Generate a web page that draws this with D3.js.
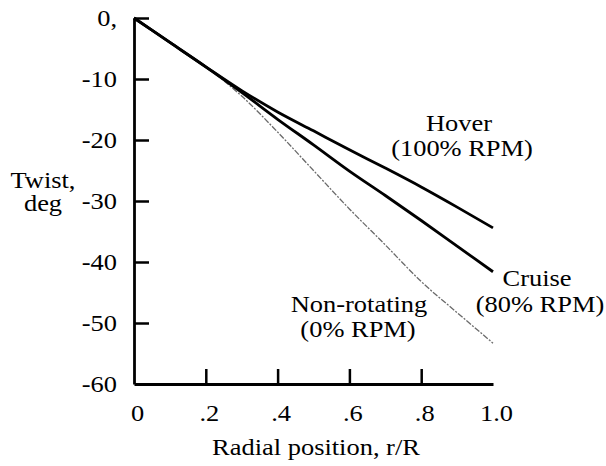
<!DOCTYPE html>
<html>
<head>
<meta charset="utf-8">
<script src="https://cdn.jsdelivr.net/npm/d3@7"></script>
<style>
  html, body { margin: 0; padding: 0; background: #fff; }
  svg { display: block; font-family: "Liberation Serif", "Times New Roman", serif; }
</style>
</head>
<body>
<div id="chart"></div>
<script>
// radial stations and twist (deg)
const radialPos = [0, 0.1, 0.2, 0.3, 0.4, 0.5, 0.6, 0.7, 0.8, 0.9, 1.0];
const hoverTwist = [0, -4, -8, -11.9, -15.4, -18.5, -21.6, -24.6, -27.7, -31.0, -34.4];
const cruiseTwist = [0, -4, -8, -12.2, -16.6, -20.8, -25.1, -29.1, -33.2, -37.4, -41.6];
const nonRotTwist = [0, -4, -8, -12.8, -18.7, -25.0, -31.3, -37.2, -43.2, -48.3, -53.3];

const xTicks = [0, 0.2, 0.4, 0.6, 0.8, 1.0];
const xTickLabels = ["0", ".2", ".4", ".6", ".8", "1.0"];
const yTicks = [0, -10, -20, -30, -40, -50, -60];
const yTickLabels = ["0,", "-10", "-20", "-30", "-40", "-50", "-60"];

const W = 606, H = 466;
const mLeft = 134, mTop = 18, plotW = 359, plotH = 366;
const fontSize = 23, sx = 1.15;

const svg = d3.select("#chart").append("svg")
  .attr("width", W)
  .attr("height", H);

const x = d3.scaleLinear().domain([0, 1]).range([mLeft, mLeft + plotW]);
const y = d3.scaleLinear().domain([-60, 0]).range([mTop + plotH, mTop]);

// axes: ticks point inward
const xAxis = d3.axisBottom(x)
  .tickValues(xTicks)
  .tickFormat((d, i) => xTickLabels[i])
  .tickSizeInner(-15)
  .tickSizeOuter(0)
  .tickPadding(21);

const yAxis = d3.axisLeft(y)
  .tickValues(yTicks)
  .tickFormat((d, i) => yTickLabels[i])
  .tickSizeInner(-15)
  .tickSizeOuter(0)
  .tickPadding(17);

const gx = svg.append("g")
  .attr("transform", `translate(0,${mTop + plotH})`)
  .call(xAxis);

const gy = svg.append("g")
  .attr("transform", `translate(${mLeft},0)`)
  .call(yAxis);

[gx, gy].forEach(g => {
  g.select(".domain").attr("stroke", "#000").attr("stroke-width", 2.8);
  g.selectAll(".tick line").attr("stroke", "#000").attr("stroke-width", 2.5);
  g.selectAll(".tick text")
    .attr("fill", "#000")
    .attr("font-size", fontSize)
    .attr("font-family", "Liberation Serif, Times New Roman, serif");
});

// no tick marks at the corners / end
gx.selectAll(".tick").filter(d => d === 0 || d === 1).select("line").remove();
gy.selectAll(".tick").filter(d => d === -60).select("line").remove();

// widen the serif glyphs a little like the scan
gx.selectAll(".tick text")
  .attr("x", 3 / sx)
  .attr("transform", `scale(${sx},1)`);
gy.selectAll(".tick text")
  .attr("x", -17 / sx)
  .attr("transform", `scale(${sx},1)`);

const line = d3.line()
  .x((d, i) => x(radialPos[i]))
  .y(d => y(d))
  .curve(d3.curveMonotoneX);

svg.append("path")
  .datum(nonRotTwist)
  .attr("d", line)
  .attr("fill", "none")
  .attr("stroke", "#6a6a6a")
  .attr("stroke-width", 1.3)
  .attr("stroke-dasharray", "6,1.5,2,1.5");

svg.append("path")
  .datum(cruiseTwist)
  .attr("d", line)
  .attr("fill", "none")
  .attr("stroke", "#000")
  .attr("stroke-width", 2.8);

svg.append("path")
  .datum(hoverTwist)
  .attr("d", line)
  .attr("fill", "none")
  .attr("stroke", "#000")
  .attr("stroke-width", 2.8);

const label = (txt, cx, by) => {
  svg.append("text")
    .attr("transform", `translate(${cx},${by}) scale(${sx},1)`)
    .attr("text-anchor", "middle")
    .attr("font-size", fontSize)
    .attr("fill", "#000")
    .text(txt);
};

label("Hover", 459, 131);
label("(100% RPM)", 462, 156);
label("Cruise", 537, 286);
label("(80% RPM)", 540, 312);
label("Non-rotating", 359, 312);
label("(0% RPM)", 358, 337);

label("Twist,", 43, 188);
label("deg", 43, 211);
label("Radial position, r/R", 316, 455);
</script>
</body>
</html>
